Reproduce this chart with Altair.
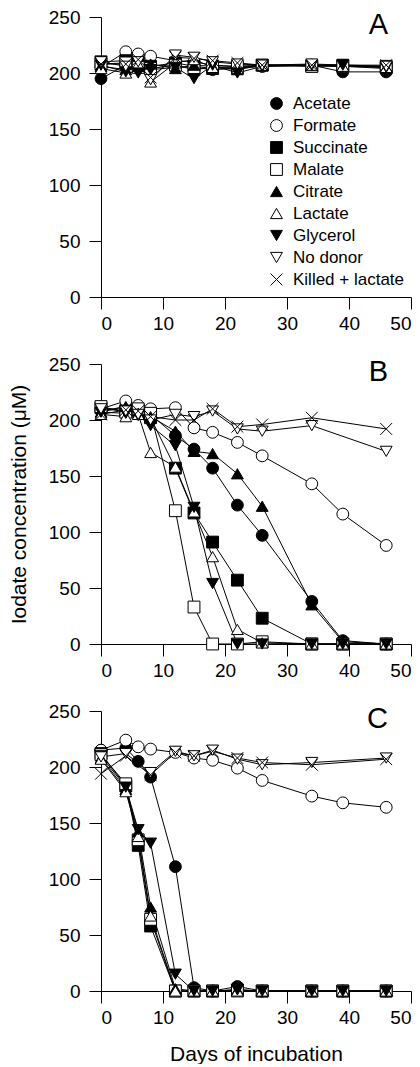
import altair as alt
import pandas as pd

days = [0, 4, 6, 8, 12, 15, 18, 22, 26, 34, 39, 46]
series = ["Acetate", "Formate", "Succinate", "Malate", "Citrate", "Lactate",
          "Glycerol", "No donor", "Killed + lactate"]
shapes = ["circle", "circle", "square", "square", "triangle-up", "triangle-up",
          "triangle-down", "triangle-down", "M-1,-1L1,1M-1,1L1,-1"]
fills = ["black", "white", "black", "white", "black", "white", "black", "white", "white"]
strokes = ["black"] * 9
sizes = [140, 140, 95, 95, 100, 100, 100, 100, 90]
x_ticks = [0, 10, 20, 30, 40, 50]
y_ticks = [0, 50, 100, 150, 200, 250]
panel_letters = ["A", "B", "C"]

# Panel A
a_acetate = [195, 207, 212, 207, 206, 205, 203, 204, 206, 207, 201, 201]
a_formate = [205, 219, 217, 215, 211, 210, 207, 206, 206, 207, 206, 206]
a_succinate = [210, 211, 209, 206, 209, 206, 204, 205, 207, 206, 207, 205]
a_malate = [208, 209, 205, 204, 207, 203, 205, 206, 207, 206, 206, 206]
a_citrate = [206, 203, 206, 208, 204, 207, 206, 203, 207, 207, 206, 204]
a_lactate = [204, 200, 208, 192, 209, 212, 205, 204, 207, 207, 206, 205]
a_glycerol = [207, 201, 200, 203, 205, 195, 207, 200, 206, 207, 207, 205]
a_nodonor = [210, 206, 210, 194, 216, 214, 210, 208, 207, 208, None, 206]
a_killed = [208, 208, 212, 196, 214, 213, 211, 209, 207, 207, None, 207]

# Panel B
b_acetate = [208, 212, 209, 205, 186, 174, 157, 124, 97, 38, 3, 0]
b_formate = [210, 217, 213, 210, 211, 193, 189, 180, 168, 143, 116, 88]
b_succinate = [211, 208, 209, 202, 157, 117, 91, 57, 23, 0, 0, 0]
b_malate = [212, 207, 210, 206, 119, 33, 0, 0, 2, 0, 0, 0]
b_citrate = [207, 212, 206, 203, 190, 172, 170, 152, 123, 35, 2, 0]
b_lactate = [205, 203, 205, 171, 158, 118, 78, 13, 1, 0, 0, 0]
b_glycerol = [207, 206, 204, 195, 177, 122, 54, 0, 0, 0, 0, 0]
b_nodonor = [210, 208, 205, 200, 205, 203, 208, 192, 190, 195, None, 172]
b_killed = [205, 209, 208, 203, 200, 200, 210, 194, 196, 202, None, 192]

# Panel C
c_acetate = [215, 217, 205, 191, 111, 3, 0, 4, 0, 0, 0, 0]
c_formate = [215, 224, 218, 216, 213, 208, 206, 199, 188, 174, 168, 164]
c_succinate = [212, 183, 130, 58, 0, 0, 0, 1, 0, 0, 0, 0]
c_malate = [211, 185, 135, 64, 0, 0, 0, 0, 0, 0, 0, 0]
c_citrate = [208, 180, 142, 75, 2, 0, 0, 1, 0, 0, 0, 0]
c_lactate = [207, 178, 138, 67, 0, 0, 0, 0, 0, 0, 0, 0]
c_glycerol = [210, 182, 144, 132, 15, 0, 0, 1, 0, 0, 0, 0]
c_nodonor = [209, 212, None, 195, 214, 210, 215, 207, 202, 204, None, 208]
c_killed = [194, 210, None, 193, 213, 210, 214, 208, 204, 202, None, 207]

panel_data = {
    "A": [a_acetate, a_formate, a_succinate, a_malate, a_citrate, a_lactate,
          a_glycerol, a_nodonor, a_killed],
    "B": [b_acetate, b_formate, b_succinate, b_malate, b_citrate, b_lactate,
          b_glycerol, b_nodonor, b_killed],
    "C": [c_acetate, c_formate, c_succinate, c_malate, c_citrate, c_lactate,
          c_glycerol, c_nodonor, c_killed],
}

rows = []
for p, lists in panel_data.items():
    for si, (name, vals) in enumerate(zip(series, lists)):
        for d, v in zip(days, vals):
            if v is not None:
                rows.append({"panel": p, "series": name, "order": si, "day": d, "conc": v})
df = pd.DataFrame(rows)

FONT = "Liberation Sans"


def panel(letter, show_legend, ytitle, xtitle):
    d = df[df.panel == letter]
    x = alt.X("day:Q", scale=alt.Scale(domain=[0, 50], nice=False),
              axis=alt.Axis(values=x_ticks, title=xtitle, labelPadding=5,
                            titlePadding=16))
    y = alt.Y("conc:Q", scale=alt.Scale(domain=[0, 250], nice=False),
              axis=alt.Axis(values=y_ticks, title=ytitle, labelPadding=9,
                            titlePadding=19))
    leg = alt.Legend(title=None, orient="none", legendX=167, legendY=78,
                     labelFontSize=17, labelFont=FONT, labelColor="black",
                     symbolStrokeColor="black", symbolStrokeWidth=1,
                     rowPadding=4, labelOffset=8, padding=0) if show_legend else None
    base = alt.Chart(d)
    lines = base.mark_line(color="black", strokeWidth=1).encode(
        x=x, y=y, detail="series:N")
    pts = base.mark_point(filled=False, strokeWidth=1,
                          opacity=1, fillOpacity=1, strokeOpacity=1).encode(
        x=x, y=y,
        stroke=alt.Stroke("series:N", scale=alt.Scale(domain=series, range=strokes), legend=leg),
        fill=alt.Fill("series:N", scale=alt.Scale(domain=series, range=fills), legend=leg),
        shape=alt.Shape("series:N", scale=alt.Scale(domain=series, range=shapes), legend=leg),
        size=alt.Size("series:N", scale=alt.Scale(domain=series, range=sizes), legend=leg),
        order=alt.Order("order:Q"),
    )
    lab = alt.Chart(pd.DataFrame({"t": [letter], "day": [46.3], "conc": [235]})).mark_text(
        align="right", baseline="alphabetic", fontSize=29, font=FONT, color="black"
    ).encode(x="day:Q", y="conc:Q", text="t:N")
    return alt.layer(lines, pts, lab).properties(width=310, height=280)


pa = panel("A", True, None, None)
pb = panel("B", False, "Iodate concentration (\u03bcM)", None)
pc = panel("C", False, None, "Days of incubation")

chart = alt.vconcat(pa, pb, pc, spacing=22).resolve_legend(
    fill="independent", shape="independent", size="independent", stroke="independent"
).configure_view(stroke=None).configure_axis(
    grid=False, domainColor="black", tickColor="black", labelColor="black",
    titleColor="black", tickSize=12, domainWidth=1, tickWidth=1,
    labelFont=FONT, titleFont=FONT, labelFontSize=19, titleFontSize=21,
    titleFontWeight="normal"
).properties(padding={"left": 0, "top": 0, "right": 0, "bottom": 0})

chart.save("out.html", embed_options={"renderer": "svg", "actions": False})
